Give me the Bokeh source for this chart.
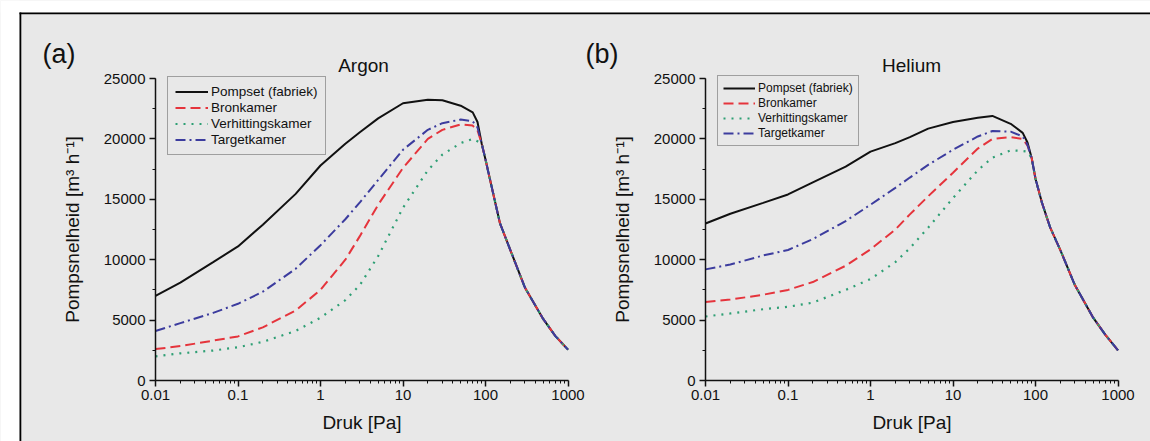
from bokeh.plotting import figure
from bokeh.models import (Label, FixedTicker, SingleIntervalTicker, CustomJSTickFormatter,
                          Range1d, LogScale, LogAxis, LinearAxis, Legend, LegendItem,
                          BoxAnnotation)
from bokeh.embed import file_html
from bokeh.resources import INLINE

FONT = "Liberation Sans"
BG = "#e8e8e8"
INK = "#111111"

# Pressure grid [Pa] shared by all curves
pressure = [0.01, 0.02, 0.05, 0.1, 0.2, 0.5, 1, 2, 3, 5, 10, 20, 30, 50, 70,
            80, 90, 100, 120, 150, 200, 300, 500, 700, 1000]

series_names = ["Pompset (fabriek)", "Bronkamer", "Verhittingskamer", "Targetkamer"]

# Pumping speed [m3/h] - Argon
argon_pompset = [7000, 8100, 9800, 11100, 12900, 15450, 17800, 19600, 20550, 21700,
                 22950, 23250, 23200, 22750, 22200, 21400, 19600, 18300, 15900, 13000,
                 10800, 7700, 5100, 3700, 2550]
argon_bron = [2600, 2850, 3300, 3650, 4400, 5800, 7500, 10000, 11950, 14550,
              17600, 20000, 20750, 21200, 21100, 20700, 19600, 18300, 15900, 13000,
              10800, 7700, 5100, 3700, 2550]
argon_verh = [2000, 2250, 2480, 2750, 3200, 4100, 5200, 6650, 7900, 10300,
              14300, 17400, 18700, 19650, 20000, 19800, 19600, 18300, 15900, 13000,
              10800, 7700, 5100, 3700, 2550]
argon_target = [4100, 4750, 5600, 6350, 7350, 9250, 11200, 13350, 14750, 16600,
                19100, 20750, 21300, 21600, 21450, 20950, 19600, 18300, 15900, 13000,
                10800, 7700, 5100, 3700, 2550]

# Pumping speed [m3/h] - Helium
helium_pompset = [13000, 13800, 14700, 15400, 16400, 17700, 18950, 19650, 20150, 20850,
                  21400, 21750, 21900, 21250, 20500, 19700, 18400, 16700, 14700, 12700,
                  10800, 7900, 5200, 3800, 2500]
helium_bron = [6500, 6700, 7100, 7500, 8150, 9500, 10850, 12500, 13750, 15250,
               17200, 19200, 20000, 20150, 20000, 19450, 18400, 16700, 14700, 12700,
               10800, 7900, 5200, 3800, 2500]
helium_verh = [5300, 5550, 5900, 6100, 6450, 7500, 8400, 9800, 10950, 12650,
               15100, 17400, 18450, 19050, 19000, 18950, 18400, 16700, 14700, 12700,
               10800, 7900, 5200, 3800, 2500]
helium_target = [9200, 9600, 10350, 10800, 11700, 13200, 14550, 15950, 16800, 17850,
                 19100, 20200, 20650, 20600, 20200, 19500, 18400, 16700, 14700, 12700,
                 10800, 7900, 5200, 3800, 2500]

x_ticks = [0.01, 0.1, 1, 10, 100, 1000]
x_tick_labels = ["0.01", "0.1", "1", "10", "100", "1000"]
x_minor = [k * d for d in x_ticks[:-1] for k in range(2, 10)]
y_min, y_max = 0, 25000

line_styles = [
    dict(color=INK, line_dash="solid", line_width=2),
    dict(color="#e5343c", line_dash="10 5", line_width=2),
    dict(color="#2e9f74", line_dash="2 6", line_width=2.2),
    dict(color="#3c3c9e", line_dash="10 4 2 4", line_width=2),
]

# Page geometry (pixels)
W, H = 1150, 441
DECADE_PX = 82.5                 # width of one decade on the x axis
Y_AXIS_PX = 302.0                # height of 0..25000 on the y axis
X_AXIS_Y = 380                   # page y of the y=0 line
PANEL_AXIS_X = {"a": 155, "b": 705}   # page x of p = 0.01 for each panel
BOX_LEFT, BOX_TOP = 19, 12       # outer figure box


def log_range(axis_x):
    lo = -2 - axis_x / DECADE_PX
    return Range1d(10 ** lo, 10 ** (lo + W / DECADE_PX))


per_px = (y_max - y_min) / Y_AXIS_PX
y0 = -(H - X_AXIS_Y) * per_px

p = figure(width=W, height=H, x_axis_type="log",
           x_range=log_range(PANEL_AXIS_X["a"]), y_range=Range1d(y0, y0 + H * per_px),
           output_backend="svg", toolbar_location=None,
           min_border=0, min_border_left=0, min_border_right=0,
           min_border_top=0, min_border_bottom=0,
           background_fill_color=BG, border_fill_color=BG, outline_line_color=None)
p.grid.visible = False
p.extra_x_ranges = {"b": log_range(PANEL_AXIS_X["b"])}
p.extra_x_scales = {"b": LogScale()}


def page_x(px):
    # page pixel -> data value on the panel (a) x range
    return 10 ** (-2 + (px - PANEL_AXIS_X["a"]) / DECADE_PX)


def page_y(py):
    return y0 + (H - py) * per_px


# white page margin and the outer box lines
white = dict(fill_color="white", fill_alpha=1, line_alpha=0)
black = dict(fill_color="black", fill_alpha=1, line_alpha=0)
p.add_layout(BoxAnnotation(bottom=page_y(BOX_TOP), **white))
p.add_layout(BoxAnnotation(right=page_x(BOX_LEFT), **white))
p.add_layout(BoxAnnotation(left=page_x(BOX_LEFT), top=page_y(BOX_TOP),
                           bottom=page_y(BOX_TOP + 1.8), **black))
p.add_layout(BoxAnnotation(left=page_x(BOX_LEFT), right=page_x(BOX_LEFT + 1.8),
                           top=page_y(BOX_TOP), **black))


def style_axis(ax):
    ax.axis_line_width = 1.5
    ax.axis_line_color = INK
    ax.major_tick_line_width = 1.5
    ax.major_tick_line_color = INK
    ax.minor_tick_line_color = INK
    ax.minor_tick_line_width = 1
    ax.major_tick_out = 6
    ax.major_tick_in = 0
    ax.minor_tick_out = 3
    ax.minor_tick_in = 0
    ax.major_label_text_font = FONT
    ax.major_label_text_font_size = "15px"
    ax.major_label_text_color = INK
    ax.axis_label_text_font = FONT
    ax.axis_label_text_font_size = "19px"
    ax.axis_label_text_font_style = "normal"
    ax.axis_label_text_color = INK


def setup_x_axis(ax):
    ax.fixed_location = y_min
    ax.bounds = (x_ticks[0], x_ticks[-1])
    ax.ticker = FixedTicker(ticks=x_ticks, minor_ticks=x_minor)
    ax.formatter = CustomJSTickFormatter(
        args=dict(vals=x_ticks, labs=x_tick_labels),
        code="const i = vals.indexOf(tick); return i >= 0 ? labs[i] : String(tick);")
    ax.axis_label = "Druk [Pa]"
    ax.axis_label_standoff = 9
    ax.major_label_standoff = 3
    style_axis(ax)


def setup_y_axis(ax):
    ax.fixed_location = x_ticks[0]
    ax.bounds = (y_min, y_max)
    ax.ticker = SingleIntervalTicker(interval=5000, num_minor_ticks=2)
    ax.axis_label = "Pompsnelheid [m\u00b3 h\u207b\u00b9]"
    ax.axis_label_standoff = 18
    ax.major_label_standoff = 4
    style_axis(ax)


setup_x_axis(p.xaxis[0])
setup_y_axis(p.yaxis[0])
xb = LogAxis(x_range_name="b")
yb = LinearAxis(x_range_name="b")
setup_x_axis(xb)
setup_y_axis(yb)
p.add_layout(xb, "below")
p.add_layout(yb, "left")


def add_panel(range_name, tag, gas, curves, legend_bottom, legend_x, legend_font,
              label_h, spacing, padding, glyph_w, tag_x, title_x):
    kw = {} if range_name is None else {"x_range_name": range_name}
    items = []
    for name, ys, st in zip(series_names, curves, line_styles):
        r = p.line(pressure, ys, **st, **kw)
        items.append(LegendItem(label=name, renderers=[r]))
    lg = Legend(items=items, location=(legend_x, H - legend_bottom), margin=0,
                padding=padding, spacing=spacing, glyph_width=glyph_w,
                glyph_height=label_h, label_height=label_h, label_standoff=3,
                label_text_font=FONT, label_text_font_size=legend_font,
                label_text_color=INK, border_line_color="#555555",
                border_line_width=1, background_fill_color=BG,
                background_fill_alpha=1.0)
    p.add_layout(lg)
    p.add_layout(Label(x=tag_x, y=H - 53, x_units="screen", y_units="screen",
                       text=tag, text_font=FONT, text_font_size="27px",
                       text_baseline="middle", text_align="left", text_color=INK))
    p.add_layout(Label(x=title_x, y=H - 65, x_units="screen", y_units="screen",
                       text=gas, text_font=FONT, text_font_size="19px",
                       text_baseline="middle", text_align="center", text_color=INK))


# legend_bottom is the page y of the legend's lower edge
add_panel(None, "(a)", "Argon", [argon_pompset, argon_bron, argon_verh, argon_target],
          legend_bottom=155, legend_x=167, legend_font="13.5px", label_h=15, spacing=1,
          padding=7, glyph_w=33, tag_x=42, title_x=363)
add_panel("b", "(b)", "Helium", [helium_pompset, helium_bron, helium_verh, helium_target],
          legend_bottom=146, legend_x=717, legend_font="12px", label_h=14, spacing=1,
          padding=5, glyph_w=32, tag_x=585, title_x=911)

open("out.html", "w").write(file_html(p, INLINE))
